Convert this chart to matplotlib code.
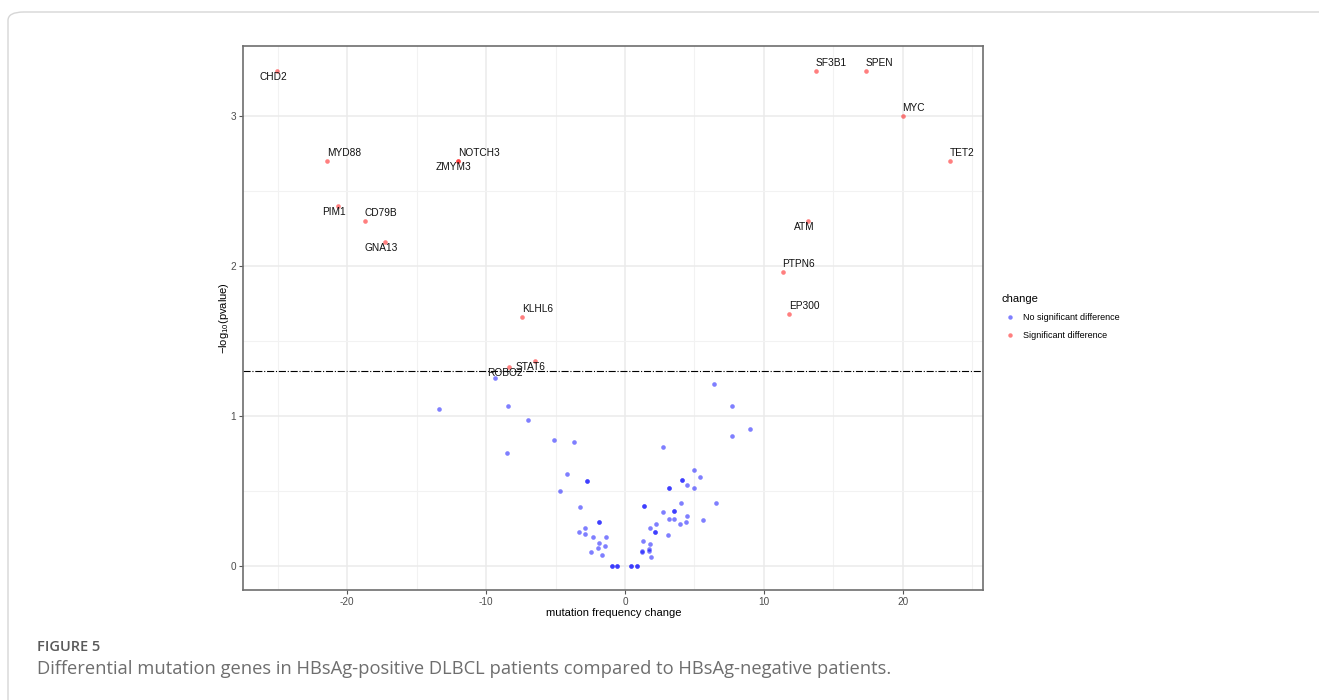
import numpy as np
import matplotlib.pyplot as plt
from matplotlib.lines import Line2D
from matplotlib.patches import FancyBboxPatch

plt.rcParams['font.family'] = ['Liberation Sans', 'DejaVu Sans']
plt.rcParams['mathtext.default'] = 'regular'

# significant genes: mutation frequency change vs -log10(p)
genes = ['CHD2', 'MYD88', 'NOTCH3', 'ZMYM3', 'PIM1', 'CD79B', 'GNA13',
         'SF3B1', 'SPEN', 'MYC', 'TET2', 'ATM', 'PTPN6', 'EP300',
         'KLHL6', 'STAT6', 'ROBO2']
sig_x = [-25.05, -21.48, -12.04, -12.04, -20.68, -18.72, -17.30,
         13.73, 17.33, 19.99, 23.40, 13.17, 11.35, 11.79,
         -7.39, -6.50, -8.37]
sig_y = [3.301, 2.699, 2.699, 2.699, 2.398, 2.301, 2.155,
         3.301, 3.301, 3.000, 2.699, 2.301, 1.959, 1.678,
         1.658, 1.367, 1.328]
# label side: 'up' -> above right of point, 'down' -> just below
label_side = ['down', 'up', 'up', 'down', 'down', 'up', 'down',
              'up', 'up', 'up', 'up', 'down', 'up', 'up',
              'up', 'down', 'down']

# genes without significant difference
ns_x = [-13.41, -9.34, -8.42, -6.98, -5.13, -3.69, -8.52, -4.18,
        -2.76, -2.76, -4.66, -3.26, -1.85, -1.85, -3.33, -2.86, -2.88,
        -2.33, -1.39, -1.87, -1.92, -1.42, -2.45, -1.66,
        -0.96, -0.96, -0.55, -0.55, 0.42, 0.42, 0.84, 0.84,
        6.39, 7.70, 9.00, 7.68, 2.74, 4.97, 5.40, 4.08, 4.08, 4.49,
        4.95, 3.19, 3.19, 6.55, 4.03, 1.37, 1.37, 2.71, 3.55, 3.55,
        4.44, 3.15, 3.53, 4.41, 5.59, 3.94, 2.23, 1.82, 2.18, 2.18,
        3.10, 1.32, 1.80, 1.25, 1.22, 1.75, 1.73, 1.85]
ns_y = [1.047, 1.253, 1.067, 0.971, 0.835, 0.827, 0.753, 0.613,
        0.565, 0.565, 0.495, 0.393, 0.289, 0.289, 0.227, 0.249, 0.209,
        0.189, 0.189, 0.153, 0.118, 0.129, 0.093, 0.069,
        0, 0, 0, 0, 0, 0, 0, 0,
        1.209, 1.067, 0.911, 0.865, 0.793, 0.640, 0.593, 0.569, 0.569, 0.540,
        0.516, 0.518, 0.518, 0.420, 0.420, 0.395, 0.395, 0.355, 0.365, 0.365,
        0.329, 0.313, 0.313, 0.293, 0.302, 0.275, 0.280, 0.249, 0.227, 0.227,
        0.207, 0.165, 0.147, 0.098, 0.089, 0.111, 0.095, 0.060]

p_cut = 0.05

W, H = 1319, 700
fig = plt.figure(figsize=(W / 100, H / 100), dpi=100)

# light outer frame around the figure block
frame = FancyBboxPatch((8 / W, -0.05), 1.2, 1 - 12 / H + 0.05,
                       boxstyle='round,pad=0,rounding_size=0.012',
                       transform=fig.transFigure, fc='none', ec='#d6d6d6', lw=1.0)
fig.patches.append(frame)

ax = fig.add_axes([243.3 / W, 1 - 590 / H, (983.3 - 243.3) / W, (590 - 45.7) / H])

ax.scatter(ns_x, ns_y, s=11, c='blue', alpha=0.5, lw=0, zorder=3)
ax.scatter(sig_x, sig_y, s=11, c='red', alpha=0.5, lw=0, zorder=3)
ax.axhline(-np.log10(p_cut), color='black', lw=0.8, ls='-.', zorder=2)

for g, x, y, side in zip(genes, sig_x, sig_y, label_side):
    if side == 'up':
        ax.annotate(g, (x, y), xytext=(0, 8), textcoords='offset pixels',
                    ha='left', va='center', fontsize=7.3, color='#111111', zorder=4)
    else:
        ax.annotate(g, (x, y), xytext=(-4, -6), textcoords='offset pixels',
                    ha='center', va='center', fontsize=7.3, color='#111111', zorder=4)

ax.set_xlim(-27.48, 25.80)
ax.set_ylim(-0.162, 3.467)
ax.set_xticks([-20, -10, 0, 10, 20])
ax.set_xticks([-25, -15, -5, 5, 15, 25], minor=True)
ax.set_yticks([0, 1, 2, 3])
ax.set_yticks([0.5, 1.5, 2.5], minor=True)
ax.set_xticklabels(['-20', '-10', '0', '10', '20'])
ax.grid(which='major', color='#ebebeb', lw=1.1, zorder=0)
ax.grid(which='minor', color='#f2f2f2', lw=0.8, zorder=0)
ax.set_axisbelow(True)
ax.tick_params(which='major', length=3, width=0.8, color='#555555',
               labelsize=7.2, labelcolor='#4d4d4d', pad=2)
ax.tick_params(which='minor', length=0)
for sp in ax.spines.values():
    sp.set_color('#6e6e6e')
    sp.set_linewidth(1.2)

ax.set_xlabel('mutation frequency change', fontsize=8)
ax.set_ylabel('\u2212log$_{10}$(pvalue)', fontsize=8)
ax.xaxis.set_label_coords(0.5, -0.0325)
ax.yaxis.set_label_coords(-0.0168, 0.5)

handles = [Line2D([], [], ls='none', marker='o', ms=3.2, mew=0, color='blue', alpha=0.5),
           Line2D([], [], ls='none', marker='o', ms=3.2, mew=0, color='red', alpha=0.5)]
fig.legend(handles, ['No significant difference', 'Significant difference'],
           title='change', loc='upper left', bbox_to_anchor=(1001 / W, 1 - 294 / H),
           frameon=False, fontsize=6.5, title_fontsize=8, alignment='left',
           handlelength=2.0, handletextpad=0.45, labelspacing=1.0,
           borderaxespad=0, borderpad=0)

fig.text(37 / W, 1 - 647 / H, 'FIGURE 5', fontsize=10.5, color='#5a5a5a',
         family=['Open Sans', 'DejaVu Sans'], weight='semibold', va='center')
fig.text(37 / W, 1 - 669 / H,
         'Differential mutation genes in HBsAg-positive DLBCL patients compared to HBsAg-negative patients.',
         fontsize=13.25, color='#6e6e6e', family=['Open Sans', 'DejaVu Sans'], va='center')

fig.savefig('out.png', dpi=100)
